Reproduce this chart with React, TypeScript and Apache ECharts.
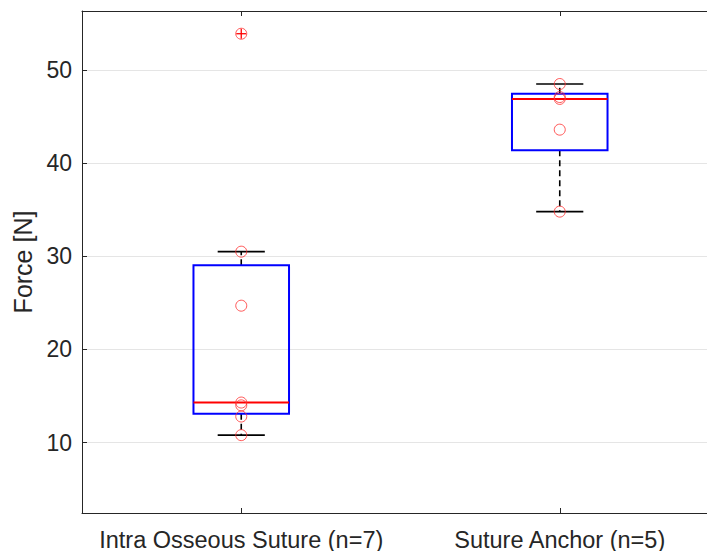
import React, { useEffect, useRef } from 'react';
import * as echarts from 'echarts';

const categories = ['Intra Osseous Suture (n=7)', 'Suture Anchor (n=5)'];
const intraOsseousSuture = [53.9, 30.5, 24.7, 14.3, 14.0, 12.8, 10.8];
const sutureAnchor = [48.5, 47.1, 46.9, 43.6, 34.8];
const groups = [intraOsseousSuture, sutureAnchor];
const yTicks = [10, 20, 30, 40, 50];
const yMin = 2.44;
const yMax = 56.34;

const FONT = '"Liberation Sans", Arial, Helvetica, sans-serif';
const TXT = '#262626';

function prctile(sorted: number[], p: number) {
  const n = sorted.length;
  const pos = (n * p) / 100 + 0.5;
  if (pos <= 1) return sorted[0];
  if (pos >= n) return sorted[n - 1];
  const i = Math.floor(pos);
  const f = pos - i;
  return sorted[i - 1] + f * (sorted[i] - sorted[i - 1]);
}

function boxStats(values: number[]) {
  const s = [...values].sort((a, b) => a - b);
  const q1 = prctile(s, 25);
  const med = prctile(s, 50);
  const q3 = prctile(s, 75);
  const iqr = q3 - q1;
  const lo = q1 - 1.5 * iqr;
  const hi = q3 + 1.5 * iqr;
  const inside = s.filter((v) => v >= lo && v <= hi);
  const outliers = s.filter((v) => v < lo || v > hi);
  return { min: inside[0], q1, med, q3, max: inside[inside.length - 1], outliers };
}

export default function App() {
  const ref = useRef<HTMLDivElement>(null);
  useEffect(() => {
    if (!ref.current) return;
    document.body.style.margin = '0';
    document.body.style.overflow = 'hidden';
    document.documentElement.style.overflow = 'hidden';
    const chart = echarts.init(ref.current, undefined, { renderer: 'svg' });
    const stats = groups.map(boxStats);
    const boxData = stats.map((s, i) => [i, s.min, s.q1, s.med, s.q3, s.max]);
    const outlierData: number[][] = [];
    stats.forEach((s, i) => s.outliers.forEach((v) => outlierData.push([i, v])));
    const pointData: number[][] = [];
    groups.forEach((g, i) => g.forEach((v) => pointData.push([i, v])));

    const bandOf = (api: any, v: number) =>
      Math.abs(api.coord([1, v])[0] - api.coord([0, v])[0]);

    chart.setOption({
      animation: false,
      textStyle: { fontFamily: FONT },
      grid: {
        left: 82,
        top: 11,
        width: 637,
        bottom: 38,
        containLabel: false,
        outerBoundsMode: 'none',
      },
      xAxis: [
        {
          type: 'category',
          data: categories,
          position: 'bottom',
          axisLine: { show: true, lineStyle: { color: TXT, width: 1 } },
          axisTick: { show: true, inside: true, alignWithLabel: true, length: 5, lineStyle: { color: TXT } },
          axisLabel: {
            fontSize: 23.5,
            lineHeight: 20,
            color: TXT,
            margin: 16.5,
            fontFamily: FONT,
            interval: 0,
            hideOverlap: false,
          },
          splitLine: { show: false },
          splitArea: { show: false },
        },
        {
          type: 'category',
          data: categories,
          position: 'top',
          axisLine: { show: true, lineStyle: { color: TXT, width: 1 } },
          axisTick: { show: true, inside: true, alignWithLabel: true, length: 5, lineStyle: { color: TXT } },
          axisLabel: { show: false },
          splitLine: { show: false },
          splitArea: { show: false },
        },
      ],
      yAxis: {
        type: 'value',
        min: yMin,
        max: yMax,
        name: 'Force [N]',
        nameLocation: 'middle',
        nameGap: 44,
        nameTextStyle: { fontSize: 25, color: TXT, fontFamily: FONT },
        axisLine: { show: true, lineStyle: { color: TXT, width: 1 } },
        axisTick: { show: true, inside: true, length: 5, lineStyle: { color: TXT } },
        axisLabel: {
          fontSize: 23,
          color: TXT,
          margin: 10,
          fontFamily: FONT,
          showMinLabel: false,
          showMaxLabel: false,
          formatter: (v: number) => (yTicks.includes(v) ? String(v) : ''),
        },
        splitLine: { show: true, lineStyle: { color: '#e5e5e5', width: 1 } },
      },
      series: [
        {
          type: 'custom',
          xAxisIndex: 0,
          data: boxData,
          encode: { x: 0, y: [1, 2, 3, 4, 5] },
          z: 2,
          renderItem: (params: any, api: any) => {
            const idx = api.value(0);
            const vMin = api.value(1);
            const vQ1 = api.value(2);
            const vMed = api.value(3);
            const vQ3 = api.value(4);
            const vMax = api.value(5);
            const band = bandOf(api, vMed);
            const boxHalf = band * 0.15;
            const capHalf = band * 0.074;
            const cx = api.coord([idx, vMed])[0];
            const y = (v: number) => api.coord([idx, v])[1];
            const yMinP = y(vMin);
            const yQ1 = y(vQ1);
            const yMed = y(vMed);
            const yQ3 = y(vQ3);
            const yMaxP = y(vMax);
            const dash = { stroke: '#000000', lineWidth: 1.6, lineDash: [6, 4] };
            const solid = { stroke: '#000000', lineWidth: 1.6 };
            return {
              type: 'group',
              children: [
                { type: 'line', shape: { x1: cx, y1: yQ3, x2: cx, y2: yMaxP }, style: dash },
                { type: 'line', shape: { x1: cx, y1: yQ1, x2: cx, y2: yMinP }, style: dash },
                { type: 'line', shape: { x1: cx - capHalf, y1: yMaxP, x2: cx + capHalf, y2: yMaxP }, style: solid },
                { type: 'line', shape: { x1: cx - capHalf, y1: yMinP, x2: cx + capHalf, y2: yMinP }, style: solid },
                {
                  type: 'rect',
                  shape: { x: cx - boxHalf, y: yQ3, width: boxHalf * 2, height: yQ1 - yQ3 },
                  style: { fill: 'none', stroke: '#0000ff', lineWidth: 2 },
                },
                {
                  type: 'line',
                  shape: { x1: cx - boxHalf, y1: yMed, x2: cx + boxHalf, y2: yMed },
                  style: { stroke: '#ff0000', lineWidth: 2 },
                },
              ],
            };
          },
        },
        {
          type: 'custom',
          xAxisIndex: 0,
          data: outlierData,
          encode: { x: 0, y: 1 },
          z: 3,
          renderItem: (params: any, api: any) => {
            const p = api.coord([api.value(0), api.value(1)]);
            const h = 5;
            const st = { stroke: '#ff0000', lineWidth: 1.3 };
            return {
              type: 'group',
              children: [
                { type: 'line', shape: { x1: p[0] - h, y1: p[1], x2: p[0] + h, y2: p[1] }, style: st },
                { type: 'line', shape: { x1: p[0], y1: p[1] - h, x2: p[0], y2: p[1] + h }, style: st },
              ],
            };
          },
        },
        {
          type: 'scatter',
          xAxisIndex: 0,
          data: pointData,
          symbol: 'circle',
          symbolSize: 11,
          z: 4,
          itemStyle: { color: 'rgba(0,0,0,0)', borderColor: '#ff3030', borderWidth: 1 },
        },
      ],
    });
    return () => chart.dispose();
  }, []);
  return (
    <div
      ref={ref}
      style={{ position: 'absolute', left: 0, top: 0, width: 707, height: 551, background: '#ffffff', overflow: 'hidden' }}
    />
  );
}
